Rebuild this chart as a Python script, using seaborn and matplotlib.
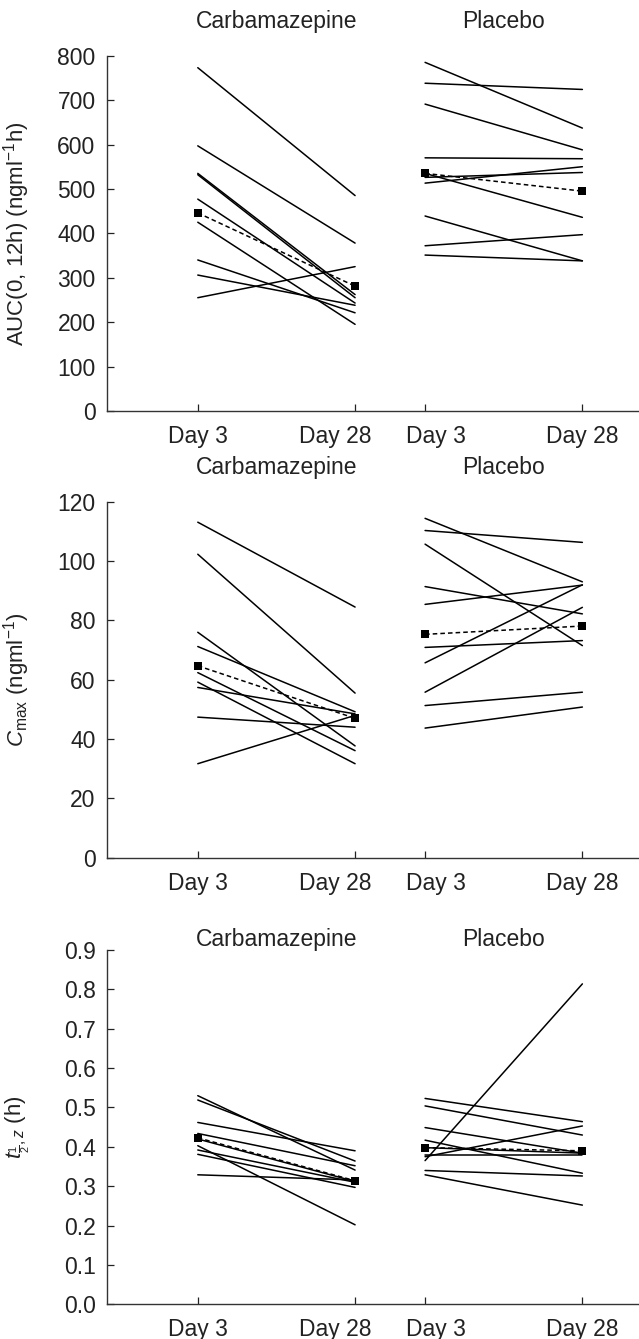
import matplotlib.pyplot as plt
import matplotlib.transforms as mtransforms
import seaborn as sns
import pandas as pd
import numpy as np

# ==========================================
# data (Day 3, Day 28 per subject)
# ==========================================
auc_carb_d3 = [773, 597, 535, 532, 477, 425, 340, 306, 255]
auc_carb_d28 = [485, 378, 262, 255, 243, 195, 221, 238, 325]
auc_carb_mean = [446, 281]
auc_plac_d3 = [785, 738, 691, 570, 535, 526, 513, 439, 372, 351]
auc_plac_d28 = [637, 724, 588, 568, 436, 537, 550, 338, 397, 338]
auc_plac_mean = [535, 495]

cmax_carb_d3 = [113.1, 102.3, 76.0, 71.2, 62.4, 59.2, 57.4, 47.4, 31.7]
cmax_carb_d28 = [84.5, 55.5, 37.7, 49.2, 36.1, 31.7, 48.5, 44.0, 48.0]
cmax_carb_mean = [64.7, 47.0]
cmax_plac_d3 = [114.4, 110.3, 105.7, 91.4, 85.4, 70.9, 65.7, 55.8, 51.3, 43.7]
cmax_plac_d28 = [93.0, 106.3, 71.5, 82.2, 91.9, 73.2, 92.0, 84.4, 55.8, 50.8]
cmax_plac_mean = [75.3, 78.1]

thalf_carb_d3 = [0.530, 0.519, 0.462, 0.434, 0.403, 0.392, 0.381, 0.329, 0.420]
thalf_carb_d28 = [0.341, 0.364, 0.390, 0.352, 0.202, 0.310, 0.297, 0.316, 0.312]
thalf_carb_mean = [0.423, 0.314]
thalf_plac_d3 = [0.523, 0.504, 0.449, 0.417, 0.365, 0.375, 0.340, 0.329, 0.398, 0.380]
thalf_plac_d28 = [0.464, 0.430, 0.384, 0.333, 0.814, 0.453, 0.326, 0.252, 0.384, 0.380]
thalf_plac_mean = [0.398, 0.390]

day_labels = ["Day 3", "Day 28", "Day 3", "Day 28"]
group_names = ["Carbamazepine", "Placebo"]
x_pos = {"Carbamazepine": [0.0, 1.0], "Placebo": [1.445, 2.445]}
label_shift_px = [0, -20, 11, 0]  # middle labels pushed apart in the original

panels = [
    dict(carb=(auc_carb_d3, auc_carb_d28, auc_carb_mean),
         plac=(auc_plac_d3, auc_plac_d28, auc_plac_mean),
         ylim=(0, 800), yticks=np.arange(0, 801, 100), fmt="{:.0f}",
         ylabel=r"AUC(0, 12h) (ngml$^{-1}$h)", bounds=(0.6931, 0.9584), title_y=1.095),
    dict(carb=(cmax_carb_d3, cmax_carb_d28, cmax_carb_mean),
         plac=(cmax_plac_d3, cmax_plac_d28, cmax_plac_mean),
         ylim=(0, 120), yticks=np.arange(0, 121, 20), fmt="{:.0f}",
         ylabel=r"$C_{\rm max}$ (ngml$^{-1}$)", bounds=(0.3594, 0.6253), title_y=1.095),
    dict(carb=(thalf_carb_d3, thalf_carb_d28, thalf_carb_mean),
         plac=(thalf_plac_d3, thalf_plac_d28, thalf_plac_mean),
         ylim=(0, 0.9), yticks=np.arange(0, 0.91, 0.1), fmt="{:.1f}",
         ylabel=r"$t_{\frac{1}{2},z}$ (h)", bounds=(0.0259, 0.2905), title_y=1.03),
]

sns.set_style("ticks")
plt.rcParams['font.family'] = ['Liberation Sans', 'DejaVu Sans']
plt.rcParams['mathtext.fontset'] = 'custom'
plt.rcParams['mathtext.rm'] = 'Liberation Sans'
plt.rcParams['mathtext.it'] = 'Liberation Sans:italic'

fig = plt.figure(figsize=(6.39, 13.39), dpi=100)
FS = 16.5

for p in panels:
    b0, b1 = p["bounds"]
    ax = fig.add_axes([0.167, b0, 1.0 - 0.167, b1 - b0])

    # long table of individual subjects
    rows = []
    means = []
    for g, key in zip(group_names, ["carb", "plac"]):
        d3, d28, m = p[key]
        for i, (a, b) in enumerate(zip(d3, d28)):
            rows.append({"subject": f"{g}_{i}", "x": x_pos[g][0], "value": a})
            rows.append({"subject": f"{g}_{i}", "x": x_pos[g][1], "value": b})
        for xv, mv in zip(x_pos[g], m):
            means.append({"group": g, "x": xv, "value": mv})
    df = pd.DataFrame(rows)
    dm = pd.DataFrame(means)

    sns.lineplot(data=df, x="x", y="value", units="subject", estimator=None,
                 color="black", linewidth=1.1, ax=ax, legend=False)
    sns.lineplot(data=dm, x="x", y="value", units="group", estimator=None,
                 color="black", linewidth=1.1, linestyle=(0, (3, 2)),
                 marker="s", markersize=6, markeredgewidth=0, ax=ax, legend=False)

    ax.set_xlim(-0.579, 2.805)
    ax.set_ylim(*p["ylim"])
    ax.set_xticks([0.0, 1.0, 1.445, 2.445])
    ax.set_xticklabels(day_labels, fontsize=FS)
    ax.set_yticks(p["yticks"])
    ax.set_yticklabels([p["fmt"].format(v) for v in p["yticks"]], fontsize=FS)
    ax.tick_params(direction="in", length=5, width=0.9, colors="#222222", pad=8)
    ax.tick_params(axis="x", pad=10)
    for lab, dx in zip(ax.get_xticklabels(), label_shift_px):
        lab.set_transform(lab.get_transform() +
                          mtransforms.ScaledTranslation(dx / 100, 0, fig.dpi_scale_trans))
    for s in ["top", "right"]:
        ax.spines[s].set_visible(False)
    for s in ["left", "bottom"]:
        ax.spines[s].set_linewidth(1.0)
        ax.spines[s].set_color("#333333")
    ax.set_xlabel("")
    ax.set_ylabel(p["ylabel"], fontsize=16, color="#222222")
    ax.yaxis.set_label_coords(-0.140, 0.5)

    for g in group_names:
        ax.text(np.mean(x_pos[g]), p["title_y"], g, fontsize=FS,
                ha="center", va="center", color="#222222",
                transform=ax.get_xaxis_transform())

fig.savefig("out.png", dpi=100)
